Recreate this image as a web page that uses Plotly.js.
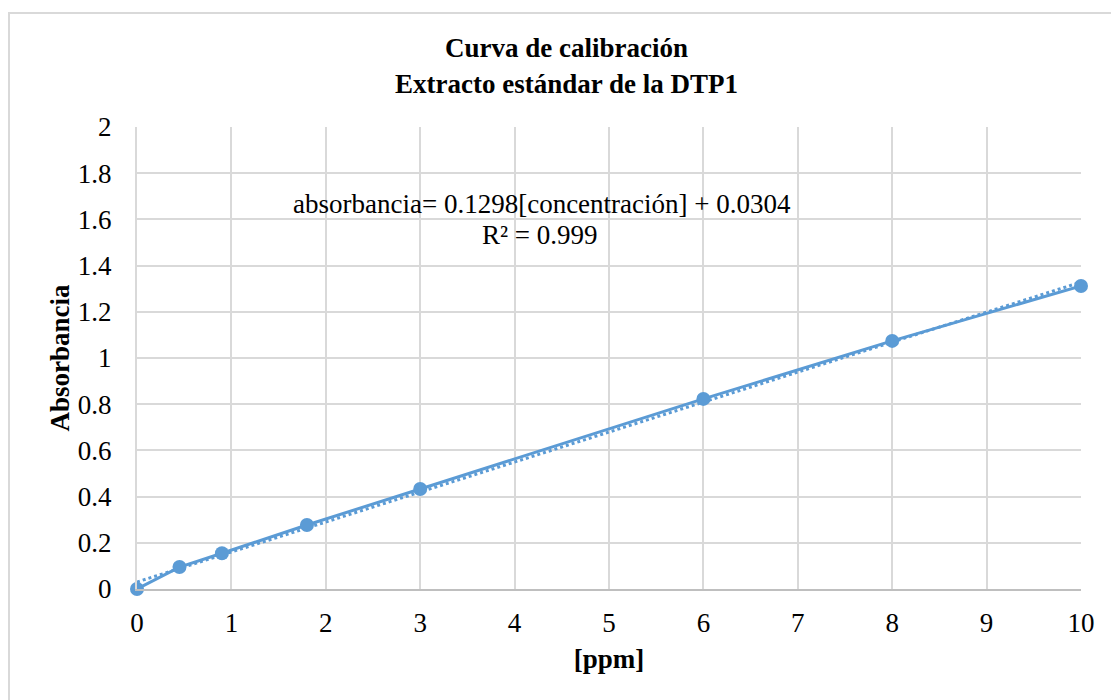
<!DOCTYPE html>
<html>
<head>
<meta charset="utf-8">
<script src="https://cdn.plot.ly/plotly-3.0.1.min.js"></script>
<style>
  html, body { margin: 0; padding: 0; background: #fff; }
  #wrap { position: relative; width: 1111px; height: 700px; overflow: hidden; }
  #chart { width: 1111px; height: 700px; }
  #frame { position: absolute; left: 8px; top: 12px; width: 1200px; height: 800px;
           border-left: 2px solid #d9d9d9; border-top: 2px solid #d9d9d9; pointer-events: none; }
</style>
</head>
<body>
<div id="wrap">
  <div id="chart"></div>
  <div id="frame"></div>
</div>
<script>
const concentration = [0, 0.45, 0.9, 1.8, 3, 6, 8, 10];
const absorbance = [0, 0.095, 0.155, 0.277, 0.433, 0.823, 1.074, 1.312];
const trendSlope = 0.1298;
const trendIntercept = 0.0304;
const trendX = [0, 10];
const xTicks = [0, 1, 2, 3, 4, 5, 6, 7, 8, 9, 10];
const yTicks = [0, 0.2, 0.4, 0.6, 0.8, 1, 1.2, 1.4, 1.6, 1.8, 2];
const yTickText = ['0', '0.2', '0.4', '0.6', '0.8', '1', '1.2', '1.4', '1.6', '1.8', '2'];
const equationText = 'absorbancia= 0.1298[concentración] + 0.0304';
const r2Text = 'R² = 0.999';

const color = '#5b9bd5';
const font = '"Liberation Serif", serif';
const fs = 27;

const traces = [
  {
    x: trendX,
    y: trendX.map(v => trendSlope * v + trendIntercept),
    mode: 'lines',
    line: { color: color, width: 3, dash: 'dot' },
    hoverinfo: 'skip',
    cliponaxis: false,
    showlegend: false
  },
  {
    x: concentration,
    y: absorbance,
    mode: 'lines+markers',
    line: { color: color, width: 3 },
    marker: { color: color, size: 14 },
    cliponaxis: false,
    showlegend: false
  }
];

const layout = {
  width: 1111,
  height: 700,
  margin: { l: 137, r: 30, t: 127, b: 111 },
  paper_bgcolor: '#fff',
  plot_bgcolor: '#fff',
  showlegend: false,
  font: { family: font, size: fs, color: '#000' },
  title: {
    text: '<b>Curva de calibración</b><br><b>Extracto estándar de la DTP1</b>',
    font: { family: font, size: fs, color: '#000' },
    x: 0.51, xanchor: 'center', xref: 'container',
    y: 0.918, yanchor: 'middle', yref: 'container'
  },
  xaxis: {
    range: [0, 10],
    tickvals: xTicks,
    ticktext: xTicks.map(String),
    showgrid: true, gridcolor: '#d9d9d9', gridwidth: 2,
    showline: true, linecolor: '#bfbfbf', linewidth: 2,
    zeroline: false,
    ticks: 'outside', ticklen: 9, tickcolor: 'rgba(0,0,0,0)',
    tickfont: { family: font, size: fs, color: '#000' },
    title: { text: '<b>[ppm]</b>', font: { family: font, size: fs, color: '#000' }, standoff: 12 },
    fixedrange: true
  },
  yaxis: {
    range: [0, 2],
    tickvals: yTicks,
    ticktext: yTickText,
    showgrid: true, gridcolor: '#d9d9d9', gridwidth: 2,
    showline: true, linecolor: '#d9d9d9', linewidth: 2,
    zeroline: false,
    ticks: 'outside', ticklen: 18, tickcolor: 'rgba(0,0,0,0)',
    tickfont: { family: font, size: fs, color: '#000' },
    title: { text: '<b>Absorbancia</b>', font: { family: font, size: fs, color: '#000' }, standoff: 0 },
    fixedrange: true
  },
  annotations: [
    {
      x: 4.295, y: 1.667, xref: 'x', yref: 'y',
      text: equationText,
      showarrow: false,
      font: { family: font, size: fs, color: '#000' },
      xanchor: 'center', yanchor: 'middle'
    },
    {
      x: 4.27, y: 1.532, xref: 'x', yref: 'y',
      text: r2Text,
      showarrow: false,
      font: { family: font, size: fs, color: '#000' },
      xanchor: 'center', yanchor: 'middle'
    }
  ]
};

Plotly.newPlot('chart', traces, layout, { displayModeBar: false, staticPlot: true });
</script>
</body>
</html>
